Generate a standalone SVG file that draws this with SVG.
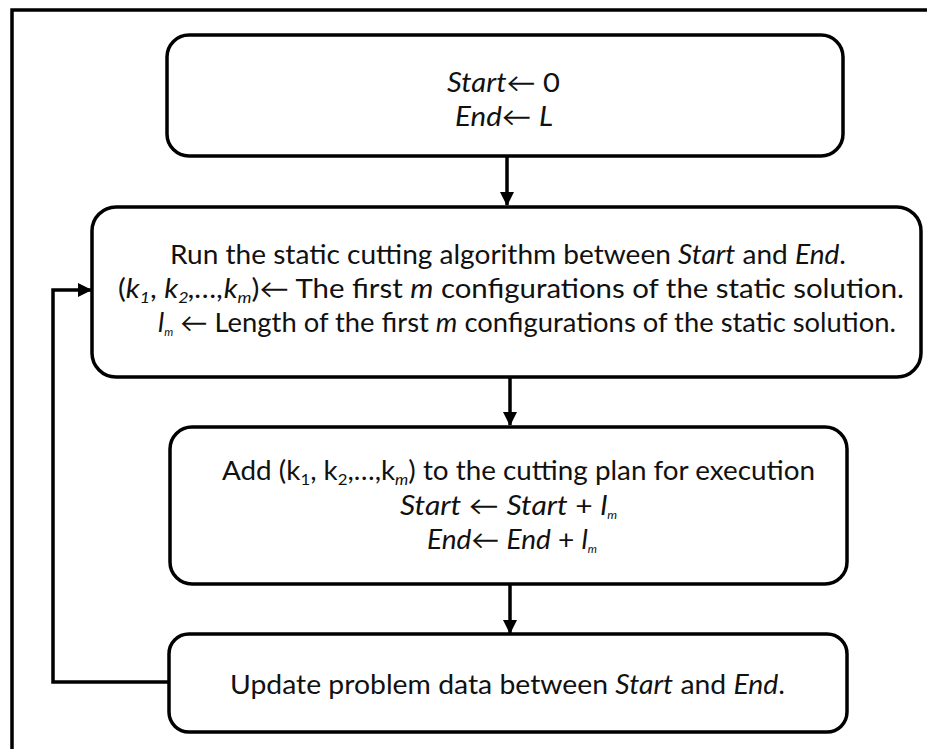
<svg xmlns="http://www.w3.org/2000/svg" width="927" height="749" viewBox="0 0 927 749">
<style>
.box{fill:#fff;stroke:#000;stroke-width:3.5}
.t{font-family:Lato,"Liberation Sans","DejaVu Sans",sans-serif;font-size:26.5px;fill:#111}
.i{font-style:italic}
.s{font-size:16px}
.c{fill:none;stroke:#000;stroke-width:3.5}
</style>
<defs>
<marker id="ah" markerUnits="userSpaceOnUse" markerWidth="14" markerHeight="16" refX="13" refY="7" orient="auto">
<path d="M0,0 L14,7 L0,14 Z" fill="#000"/>
</marker>
</defs>
<rect x="12" y="10" width="930" height="760" fill="#fff" stroke="#000" stroke-width="3.5"/>
<g id="connectors">
<line class="c" x1="507" y1="157" x2="507" y2="205" marker-end="url(#ah)"/>
<line class="c" x1="510" y1="378" x2="510" y2="425" marker-end="url(#ah)"/>
<line class="c" x1="510" y1="585" x2="510" y2="633" marker-end="url(#ah)"/>
<polyline class="c" points="169,682 53,682 53,290 91,290" marker-end="url(#ah)"/>
</g>
<g id="n1">
<rect class="box" x="167" y="35" width="676" height="121" rx="22"/>
<text class="t" x="447" y="92" textLength="113" lengthAdjust="spacingAndGlyphs"><tspan class="i">Start</tspan>← 0</text>
<text class="t" x="455" y="126" textLength="98" lengthAdjust="spacingAndGlyphs"><tspan class="i">End</tspan>← <tspan class="i">L</tspan></text>
</g>
<g id="n2">
<rect class="box" x="92" y="207" width="829" height="170" rx="24"/>
<text class="t" x="170" y="264" textLength="676" lengthAdjust="spacingAndGlyphs">Run the static cutting algorithm between <tspan class="i">Start</tspan> and <tspan class="i">End</tspan>.</text>
<text class="t" x="118" y="298" textLength="786" lengthAdjust="spacingAndGlyphs">(<tspan class="i">k</tspan><tspan class="i s" dy="5">1</tspan><tspan dy="-5">, </tspan><tspan class="i">k</tspan><tspan class="i s" dy="5">2</tspan><tspan class="i" dy="-5">,…,</tspan><tspan class="i">k</tspan><tspan class="i s" dy="5">m</tspan><tspan dy="-5">)← The first </tspan><tspan class="i">m</tspan> configurations of the static solution.</text>
<text class="t" x="158" y="332" textLength="738" lengthAdjust="spacingAndGlyphs"><tspan class="i">l</tspan><tspan class="i" style="font-size:11px" dy="4">m</tspan><tspan dy="-4"> ← Length of the first </tspan><tspan class="i">m</tspan> configurations of the static solution.</text>
</g>
<g id="n3">
<rect class="box" x="170" y="427" width="677" height="157" rx="22"/>
<text class="t" x="222" y="480" textLength="593" lengthAdjust="spacingAndGlyphs">Add (k<tspan class="s" dy="5">1</tspan><tspan dy="-5">, k</tspan><tspan class="s" dy="5">2</tspan><tspan dy="-5">,…,k</tspan><tspan class="i s" dy="5">m</tspan><tspan dy="-5">) to the cutting plan for execution</tspan></text>
<text class="t" x="400" y="515" textLength="217" lengthAdjust="spacingAndGlyphs"><tspan class="i">Start</tspan> ←  <tspan class="i">Start</tspan> + <tspan class="i">l</tspan><tspan class="i" style="font-size:11px" dy="4">m</tspan></text>
<text class="t" x="427" y="549" textLength="170" lengthAdjust="spacingAndGlyphs"><tspan class="i">End</tspan>← <tspan class="i">End</tspan> + <tspan class="i">l</tspan><tspan class="i" style="font-size:11px" dy="4">m</tspan></text>
</g>
<g id="n4">
<rect class="box" x="169" y="634" width="678" height="98" rx="20"/>
<text class="t" x="230" y="694" textLength="555" lengthAdjust="spacingAndGlyphs">Update problem data between <tspan class="i">Start</tspan> and <tspan class="i">End</tspan>.</text>
</g>
</svg>
